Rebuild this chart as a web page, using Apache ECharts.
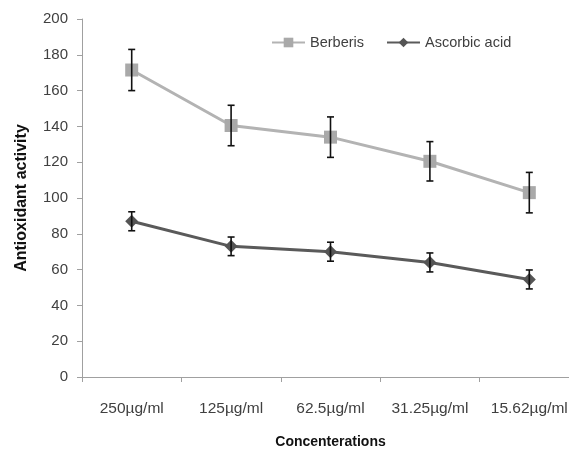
<!DOCTYPE html>
<html>
<head>
<meta charset="utf-8">
<script src="https://cdn.jsdelivr.net/npm/echarts@6/dist/echarts.min.js"></script>
<style>
  html, body { margin: 0; padding: 0; background: #fff; }
  #chart { width: 569px; height: 449px; }
</style>
</head>
<body>
<div id="chart"></div>
<script>
// data
var categories = ["250µg/ml", "125µg/ml", "62.5µg/ml", "31.25µg/ml", "15.62µg/ml"];
var berberis = [171.5, 140.5, 134, 120.5, 103];
var berberisErr = [11.5, 11.3, 11.3, 11, 11.3];
var ascorbic = [87, 73, 70, 64, 54.5];
var ascorbicErr = [5.3, 5.2, 5.3, 5.3, 5.3];
var yTicks = [0, 20, 40, 60, 80, 100, 120, 140, 160, 180, 200];

var font = "'Liberation Sans', sans-serif";

// rows [index, low, high] for the error bars
function errRows(vals, errs) {
  var rows = [];
  for (var i = 0; i < vals.length; i++) {
    rows.push([i, vals[i] - errs[i], vals[i] + errs[i]]);
  }
  return rows;
}

function renderErr(params, api) {
  var x = api.value(0);
  var lo = api.coord([x, api.value(1)]);
  var hi = api.coord([x, api.value(2)]);
  var cap = 3.5;
  var st = { stroke: "#111", lineWidth: 1.6 };
  return {
    type: "group",
    children: [
      { type: "line", shape: { x1: hi[0], y1: hi[1], x2: lo[0], y2: lo[1] }, style: st },
      { type: "line", shape: { x1: hi[0] - cap, y1: hi[1], x2: hi[0] + cap, y2: hi[1] }, style: st },
      { type: "line", shape: { x1: lo[0] - cap, y1: lo[1], x2: lo[0] + cap, y2: lo[1] }, style: st }
    ]
  };
}

var myChart = echarts.init(document.getElementById("chart"));
var option = {
  animation: false,
  backgroundColor: "#fff",
  textStyle: { fontFamily: font },
  legend: {
    data: ["Berberis", "Ascorbic acid"],
    top: 30,
    left: 266,
    itemWidth: 33,
    itemHeight: 12,
    itemGap: 22,
    textStyle: { fontSize: 14.5, color: "#404040", fontFamily: font }
  },
  grid: { left: 82, width: 497, top: 19, bottom: 72, outerBoundsMode: "none", containLabel: false },
  xAxis: {
    type: "category",
    data: categories,
    boundaryGap: true,
    name: "Concenterations",
    nameLocation: "middle",
    nameGap: 58,
    nameTextStyle: { fontSize: 14, fontWeight: "bold", color: "#111", fontFamily: font },
    axisLine: { lineStyle: { color: "#a0a0a0", width: 1 } },
    axisTick: { show: true, interval: 0, length: 5, lineStyle: { color: "#a0a0a0" } },
    axisLabel: { interval: 0, hideOverlap: false, fontSize: 15.5, color: "#404040", margin: 24, fontFamily: font }
  },
  yAxis: {
    type: "value",
    min: yTicks[0],
    max: yTicks[yTicks.length - 1],
    interval: yTicks[1] - yTicks[0],
    name: "Antioxidant activity",
    nameLocation: "middle",
    nameRotate: 90,
    nameGap: 52,
    nameTextStyle: { fontSize: 16, fontWeight: "bold", color: "#111", fontFamily: font },
    axisLine: { show: true, lineStyle: { color: "#a0a0a0", width: 1 } },
    axisTick: { show: true, length: 5, lineStyle: { color: "#a0a0a0" } },
    splitLine: { show: false },
    axisLabel: { fontSize: 15, color: "#404040", margin: 14, fontFamily: font }
  },
  series: [
    {
      name: "Berberis",
      type: "line",
      data: berberis,
      symbol: "rect",
      symbolSize: 13,
      lineStyle: { color: "#b3b3b3", width: 3 },
      itemStyle: { color: "#a9a9a9" },
      z: 2
    },
    {
      name: "Ascorbic acid",
      type: "line",
      data: ascorbic,
      symbol: "diamond",
      symbolSize: 13,
      lineStyle: { color: "#5a5a5a", width: 3 },
      itemStyle: { color: "#555" },
      z: 2
    },
    {
      type: "custom",
      renderItem: renderErr,
      data: errRows(berberis, berberisErr),
      encode: { x: 0, y: [1, 2] },
      z: 5
    },
    {
      type: "custom",
      renderItem: renderErr,
      data: errRows(ascorbic, ascorbicErr),
      encode: { x: 0, y: [1, 2] },
      z: 5
    }
  ]
};
myChart.setOption(option);
</script>
</body>
</html>
